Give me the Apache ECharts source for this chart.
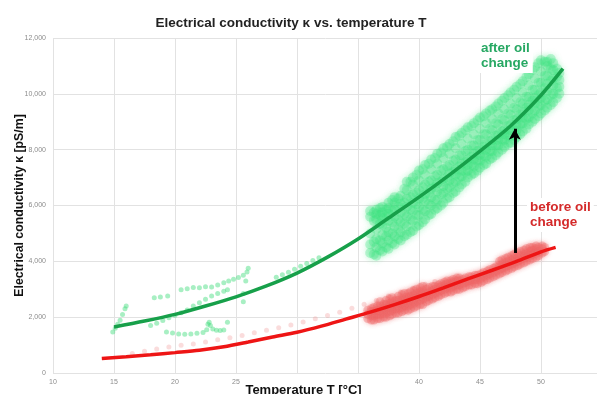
<!DOCTYPE html>
<html><head><meta charset="utf-8">
<script src="https://cdn.jsdelivr.net/npm/echarts@6/dist/echarts.min.js"></script>
<style>html,body{margin:0;padding:0;background:#fff}#c{width:597px;height:394px}</style>
</head><body><div id="c"></div>
<script>
// ---- data ----
const titleText = 'Electrical conductivity \u03ba vs. temperature T';
const xName = 'Temperature T [\u00b0C]';
const yName = 'Electrical conductivity \u03ba [pS/m]';
const xTicks = [10, 15, 20, 25, 30, 35, 40, 45, 50, 55];
const xTicksHiddenByName = [30, 35];
const yTicks = [0, 2000, 4000, 6000, 8000, 10000, 12000];

// fitted curves [T, kappa]
const fitAfter = [[15,1650],[17.5,1860],[20,2100],[22.5,2400],[25,2730],[27.5,3120],[30,3580],[32.5,4150],[35,4800],[37.5,5550],[40,6300],[42.5,7100],[45,7950],[47.5,8850],[50,9950],[51.8,10900]];
const fitBefore = [[14,520],[16,580],[18,650],[20,730],[22,815],[24,940],[26,1110],[28,1290],[30,1460],[32,1680],[34,1930],[36,2180],[38,2450],[40,2740],[42,3050],[44,3370],[46,3680],[48,4000],[50,4340],[51.2,4500]];

// measured clouds: each row = [T, kappa values...]
const afterCloudRows = [
 [36.0,4300,4600,5000,5600,5800],
 [36.5,4200,4500,4800,5150,5500,5700,5850],
 [37.0,4350,4650,4950,5300,5550,5750,5950],
 [37.5,4450,4750,5050,5450,5700,5900,6100],
 [38.0,4600,4900,5250,5600,5850,6100,6300],
 [38.5,4750,5050,5400,5750,6050,6350],
 [39.0,4950,5250,5600,5950,6250,6550,6850],
 [39.5,5100,5450,5800,6100,6400,6750,7000],
 [40.0,5300,5650,5950,6250,6550,6900,7250],
 [40.5,5500,5800,6150,6400,6750,7100,7450],
 [41.0,5700,6000,6300,6600,6900,7300,7650],
 [41.5,5900,6200,6500,6800,7100,7500,7850],
 [42.0,6100,6450,6700,6950,7300,7700,8050],
 [42.5,6300,6650,6900,7150,7450,7850,8200],
 [43.0,6500,6850,7100,7300,7650,8050,8450],
 [43.5,6750,7050,7250,7500,7800,8200,8600],
 [44.0,7000,7250,7450,7650,8000,8400,8800],
 [44.5,7150,7400,7650,7850,8150,8550,8950],
 [45.0,7350,7600,7800,8000,8350,8750,9150],
 [45.5,7500,7750,8000,8200,8550,8950,9300],
 [46.0,7700,7950,8150,8350,8700,9100,9450],
 [46.5,7900,8150,8350,8550,8900,9300,9650],
 [47.0,8100,8350,8550,8700,9050,9450,9850],
 [47.5,8250,8500,8700,8900,9250,9650,10050],
 [48.0,8450,8700,8900,9100,9450,9850,10250],
 [48.5,8650,8950,9150,9350,9650,10050,10450],
 [49.0,8900,9150,9400,9600,9900,10300,10700],
 [49.5,9100,9400,9650,9850,10150,10550,10950],
 [50.0,9300,9600,9850,10050,10400,10800,11200],
 [50.5,9500,9800,10100,10350,10650,11000,11150],
 [51.0,9700,10000,10300,10550,10850,11100],
 [51.5,10000,10250,10500,10750]
];
// in-between rows of the same cloud
const afterCloudRows2 = [
 [36.3,4250,4700,5450,5750],
 [36.8,4400,4750,5350,5650,5900],
 [37.3,4500,4900,5200,5600,5850],
 [37.8,4650,5000,5400,5800,6200],
 [38.3,4800,5150,5500,5950,6250],
 [38.8,4900,5350,5700,6100,6600],
 [39.3,5050,5500,5850,6300,6850],
 [39.8,5250,5650,6050,6450,7100],
 [40.3,5400,5850,6250,6650,7300],
 [40.8,5650,6050,6450,6850,7500],
 [41.3,5850,6200,6650,7050,7700],
 [41.8,6000,6400,6850,7250,7900],
 [42.3,6250,6600,7000,7400,8100],
 [42.8,6450,6800,7200,7600,8300],
 [43.3,6650,7000,7400,7800,8500],
 [43.8,6850,7200,7550,7950,8700],
 [44.3,7100,7450,7750,8150,8850],
 [44.8,7250,7600,7950,8350,9050],
 [45.3,7450,7800,8100,8550,9200],
 [45.8,7650,7950,8300,8750,9400],
 [46.3,7800,8150,8500,8950,9550],
 [46.8,8000,8350,8650,9100,9750],
 [47.3,8200,8500,8850,9300,9950],
 [47.8,8350,8700,9050,9500,10150],
 [48.3,8550,8900,9250,9700,10350],
 [48.8,8750,9100,9500,9900,10600],
 [49.3,9000,9300,9750,10150,10850],
 [49.8,9200,9550,9950,10400,11100],
 [50.3,9400,9750,10200,10650,11150],
 [50.8,9600,9950,10450,10900,11250],
 [51.3,9850,10200,10600,10900]
];
const afterTrails = [
 [14.9,1470],[15.1,1600],[15.3,1750],[15.5,1890],[15.7,2100],[15.9,2300],[16.0,2400],
 [18.3,2700],[18.8,2720],[19.4,2760],[20.5,2980],[21.0,3020],[21.5,3060],[22.0,3050],[22.5,3090],[23.0,3080],[23.5,3150],[24.0,3230],[24.4,3300],[24.8,3360],[25.2,3420],[25.6,3500],[25.9,3620],[26.0,3750],[25.8,3300],
 [18.0,1700],[18.5,1780],[19.0,1880],[19.5,1980],[20.0,2070],[20.5,2160],[21.0,2260],[21.5,2400],[22.0,2520],[22.5,2640],[23.0,2760],[23.5,2850],[24.0,2930],[24.3,2980],
 [19.3,1470],[19.8,1430],[20.3,1400],[20.8,1390],[21.3,1400],[21.8,1420],[22.3,1450],[22.6,1550],[22.7,1750],[22.8,1820],[22.9,1700],[23.1,1580],[23.4,1530],[23.7,1520],[24.0,1540],[24.3,1820],
 [25.6,2550],[25.6,2850],
 [28.3,3430],[28.8,3520],[29.3,3610],[29.8,3720],[30.3,3820],[30.8,3920],[31.3,4030],[31.8,4130]
];
const beforeCloudRows = [
 [35.8,1950,2100,2250],
 [36.1,1900,2050,2200,2300],
 [36.3,1900,2050,2200,2350],
 [36.6,1950,2100,2250,2400],
 [36.8,1950,2100,2250,2400,2550],
 [37.1,2000,2150,2300,2450],
 [37.3,2000,2150,2300,2450,2600],
 [37.6,2050,2200,2350,2500,2650],
 [37.8,2100,2250,2400,2550,2700],
 [38.1,2150,2300,2450,2600],
 [38.3,2150,2300,2450,2600,2750],
 [38.6,2200,2350,2500,2650,2800],
 [38.8,2250,2400,2550,2700,2850],
 [39.1,2250,2400,2550,2700,2850],
 [39.3,2300,2450,2600,2750,2900],
 [39.6,2350,2500,2650,2800,2950],
 [39.8,2400,2550,2700,2850,3000],
 [40.1,2450,2600,2750,2900,3050],
 [40.3,2450,2650,2800,2950,3100],
 [40.6,2550,2700,2850,3000],
 [40.8,2600,2750,2900,3050],
 [41.1,2650,2800,2950,3100],
 [41.3,2700,2850,3000,3100],
 [41.6,2750,2900,3050,3150],
 [41.8,2800,2950,3100,3200],
 [42.1,2850,3000,3150,3250],
 [42.3,2900,3050,3200,3300],
 [42.6,2900,3050,3200,3300],
 [42.8,2950,3100,3250,3350],
 [43.1,3000,3150,3300,3400],
 [43.3,3000,3150,3300,3400],
 [43.6,3050,3200,3350],
 [43.8,3100,3250,3400],
 [44.1,3150,3300,3450],
 [44.3,3150,3300,3450],
 [44.6,3200,3350,3500],
 [44.8,3200,3350,3500],
 [45.1,3250,3400,3550],
 [45.3,3300,3450,3600],
 [45.6,3350,3500,3650],
 [45.8,3400,3550,3700],
 [46.1,3450,3600,3750],
 [46.3,3500,3650,3800],
 [46.6,3550,3700,3850,4000],
 [46.8,3600,3750,3900,4050],
 [47.1,3650,3800,3950,4100],
 [47.3,3700,3850,4000,4150],
 [47.6,3750,3900,4050,4200],
 [47.8,3800,3950,4100,4250],
 [48.1,3850,4000,4150,4300],
 [48.3,3900,4050,4200,4350],
 [48.6,3950,4100,4250,4400],
 [48.8,4000,4150,4300,4450],
 [49.1,4050,4200,4350,4500],
 [49.3,4100,4250,4400,4500],
 [49.6,4150,4300,4450,4550],
 [49.8,4200,4350,4500],
 [50.1,4300,4450,4550],
 [50.3,4350,4500]
];
const beforeTrail = [[16.5,700],[17.5,780],[18.5,860],[19.5,930],[20.5,990],[21.5,1040],[22.5,1110],[23.5,1190],[24.5,1260],[25.5,1340],[26.5,1440],[27.5,1530],[28.5,1620],[29.5,1720],[30.5,1830],[31.5,1940],[32.5,2060],[33.5,2180],[34.5,2320],[35.5,2460],[36.5,2600],[37.5,2760],[38.5,2900],[39.5,3040],[40.5,3180],[41.3,3280]];

// arrow between the two states
const arrowT = 47.85, arrowFrom = 4300, arrowTo = 8750;
const labelAfter = 'after oil\nchange';
const labelBefore = 'before oil\nchange';

// ---- build ----
function flatten(rows){ const out=[]; rows.forEach(r=>{ for(let i=1;i<r.length;i++) out.push([r[0], r[i]]); }); return out; }
const FONT = '"Liberation Sans", Arial, sans-serif';
const chart = echarts.init(document.getElementById('c'), null, {renderer:'canvas'});
const greenDot = {color:'#3fe583', opacity:0.3, shadowBlur:6, shadowColor:'rgba(60,225,125,0.7)'};
chart.setOption({
  animation:false,
  backgroundColor:'#fff',
  title:{text:titleText, left:286, textAlign:'center', top:11,
    textStyle:{fontSize:13.5, fontWeight:'bold', color:'#222', fontFamily:FONT}},
  grid:{left:53, right:-5, top:38, bottom:21, containLabel:false, outerBoundsMode:'none'},
  xAxis:{type:'value', min:xTicks[0], max:xTicks[xTicks.length-1], interval:5,
    name:xName, nameLocation:'middle', nameGap:8, nameMoveOverlap:false,
    nameTextStyle:{fontSize:13, fontWeight:'bold', color:'#111', fontFamily:FONT, backgroundColor:'#fff', padding:[3,54,3,6], verticalAlign:'top'},
    axisLine:{show:false}, axisTick:{show:false},
    axisLabel:{fontSize:7, color:'#8c8c8c', margin:6, fontFamily:FONT,
      formatter:v => xTicksHiddenByName.indexOf(v) >= 0 ? '' : String(v)},
    splitLine:{show:true, lineStyle:{color:'#e2e2e2', width:1}}},
  yAxis:{type:'value', min:yTicks[0], max:yTicks[yTicks.length-1], interval:2000,
    name:yName, nameLocation:'middle', nameGap:27, nameMoveOverlap:false,
    nameTextStyle:{fontSize:12.3, fontWeight:'bold', color:'#111', fontFamily:FONT},
    axisLine:{show:false}, axisTick:{show:false},
    axisLabel:{fontSize:7, color:'#8c8c8c', margin:7, fontFamily:FONT},
    splitLine:{show:true, lineStyle:{color:'#e2e2e2', width:1}}},
  series:[
    {type:'scatter', name:'before trail', data:beforeTrail, symbolSize:5, silent:true, z:1,
      itemStyle:{color:'#f08a8a', opacity:0.3}},
    {type:'scatter', name:'after trails', data:afterTrails, symbolSize:5, silent:true, z:1,
      itemStyle:{color:'#3ddc7a', opacity:0.45}},
    {type:'scatter', name:'after oil change', data:flatten(afterCloudRows), symbolSize:10, silent:true, z:1, itemStyle:greenDot},
    {type:'scatter', name:'after oil change 2', data:flatten(afterCloudRows2), symbolSize:10, silent:true, z:1, itemStyle:greenDot},
    {type:'scatter', name:'before oil change', data:flatten(beforeCloudRows), symbolSize:9, silent:true, z:1,
      itemStyle:{color:'#f26a6a', opacity:0.35, shadowBlur:5, shadowColor:'rgba(240,100,100,0.7)'}},
    {type:'line', name:'fit after', data:fitAfter, smooth:0.3, showSymbol:false, silent:true, z:3,
      lineStyle:{color:'#17a04a', width:3.5}},
    {type:'line', name:'fit before', data:fitBefore, smooth:0.3, showSymbol:false, silent:true, z:3,
      lineStyle:{color:'#ee1515', width:3.5},
      markLine:{silent:true, symbol:['none','arrow'], symbolSize:[9,11], label:{show:false},
        lineStyle:{color:'#000', width:3, type:'solid'},
        data:[[{coord:[arrowT, arrowFrom]},{coord:[arrowT, arrowTo]}]]}}
  ],
  graphic:[
    {type:'text', left:478, top:39, z:10, style:{text:labelAfter, fontSize:13.5, fontWeight:'bold', fontFamily:FONT, fill:'#27a863', backgroundColor:'#fff', padding:[2,3], lineHeight:15}},
    {type:'text', left:527, top:198, z:10, style:{text:labelBefore, fontSize:13.5, fontWeight:'bold', fontFamily:FONT, fill:'#d42a2a', backgroundColor:'#fff', padding:[2,3], lineHeight:15}}
  ]
});
</script></body></html>
